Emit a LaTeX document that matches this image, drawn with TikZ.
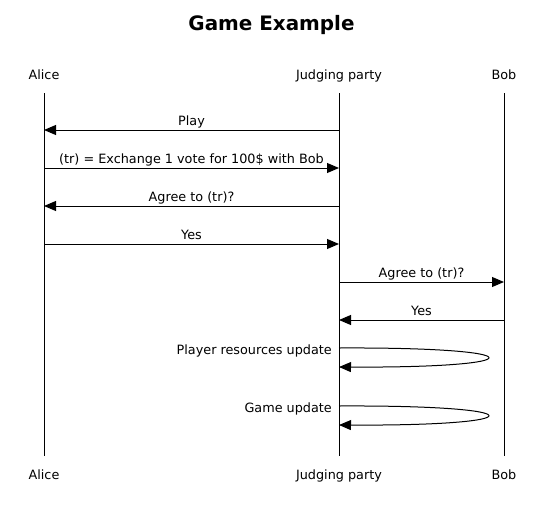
\documentclass[tikz,border=0pt]{standalone}
\usepackage{fontspec}
\setmainfont{DejaVu Sans}
\usetikzlibrary{arrows.meta}
\begin{document}
\begin{tikzpicture}[x=1pt,y=-1pt,
  lbl/.style={inner sep=0pt,font=\fontsize{12.8}{14}\selectfont},
  msg/.style={line width=1pt,-{Triangle[length=12pt,width=10pt]}},
  life/.style={line width=1pt}]
\useasboundingbox (0,0) rectangle (542,515);
\node[inner sep=0pt,anchor=base,font=\fontsize{19.9}{23}\selectfont\bfseries] (title) at (271.5,30) {Game Example};
% participants
\node[lbl,anchor=base] (At) at (44,79) {Alice};
\node[lbl,anchor=base] (Jt) at (339,79) {Judging party};
\node[lbl,anchor=base] (Bt) at (504,79) {Bob};
\node[lbl,anchor=base] (Ab) at (44,479) {Alice};
\node[lbl,anchor=base] (Jb) at (339,479) {Judging party};
\node[lbl,anchor=base] (Bb) at (504,479) {Bob};
\coordinate (A1) at (44,93); \coordinate (A2) at (44,456);
\coordinate (J1) at (339,93); \coordinate (J2) at (339,456);
\coordinate (B1) at (504,93); \coordinate (B2) at (504,456);
\draw[life] (A1) -- (A2);
\draw[life] (J1) -- (J2);
\draw[life] (B1) -- (B2);
% message levels
\coordinate (m1) at (0,130);
\coordinate (m2) at (0,168);
\coordinate (m3) at (0,206);
\coordinate (m4) at (0,244);
\coordinate (m5) at (0,282);
\coordinate (m6) at (0,320);
\draw[msg] (J1 |- m1) -- node[lbl,anchor=base,yshift=4.5pt] (l1) {Play} (A1 |- m1);
\draw[msg] (A1 |- m2) -- node[lbl,anchor=base,yshift=4.5pt] (l2) {(tr) = Exchange 1 vote for 100\$ with Bob} (J1 |- m2);
\draw[msg] (J1 |- m3) -- node[lbl,anchor=base,yshift=4.5pt] (l3) {Agree to (tr)?} (A1 |- m3);
\draw[msg] (A1 |- m4) -- node[lbl,anchor=base,yshift=4.5pt] (l4) {Yes} (J1 |- m4);
\draw[msg] (J1 |- m5) -- node[lbl,anchor=base,yshift=4.5pt] (l5) {Agree to (tr)?} (B1 |- m5);
\draw[msg] (B1 |- m6) -- node[lbl,anchor=base,yshift=4.5pt] (l6) {Yes} (J1 |- m6);
% self messages
\coordinate (s1a) at (339,348); \coordinate (s1b) at (339,367);
\coordinate (s2a) at (339,406); \coordinate (s2b) at (339,425);
\node[lbl,anchor=base east] (l7) at (332,354) {Player resources update};
\node[lbl,anchor=base east] (l8) at (332,412) {Game update};
\draw[msg] (s1a) .. controls (537,347) and (537,368) .. (s1b);
\draw[msg] (s2a) .. controls (537,405) and (537,426) .. (s2b);
\end{tikzpicture}
\end{document}
